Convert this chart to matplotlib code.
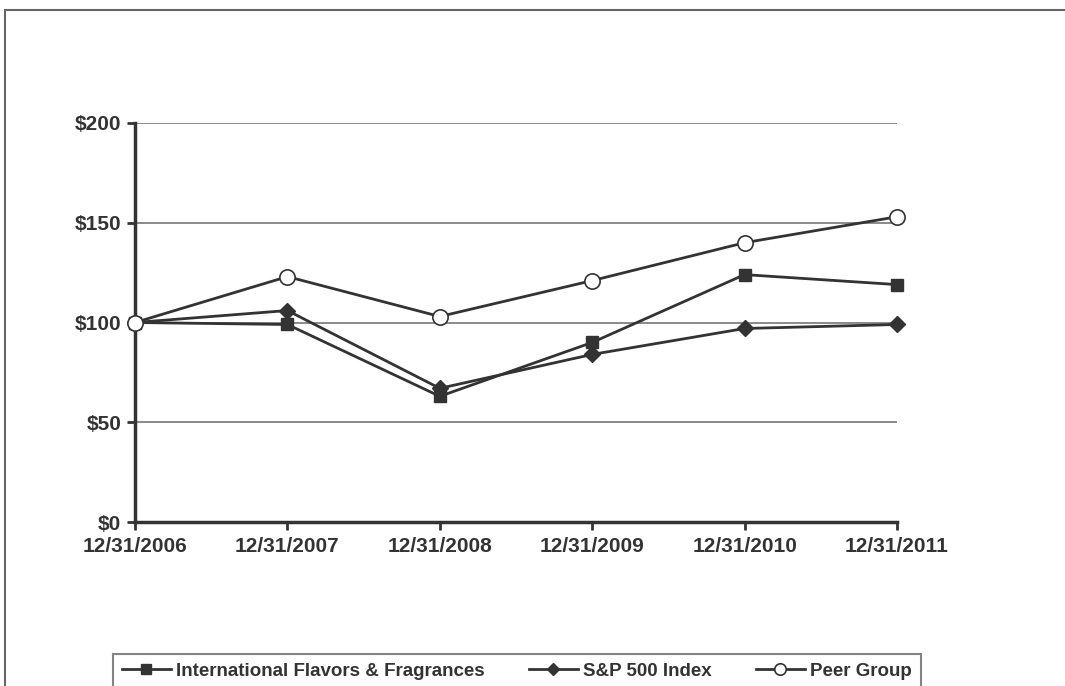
import matplotlib
matplotlib.use("Agg")
import matplotlib.pyplot as plt
from matplotlib.patches import Rectangle

plt.rcParams['font.family'] = ['Liberation Sans', 'DejaVu Sans']

years = ["12/31/2006", "12/31/2007", "12/31/2008", "12/31/2009", "12/31/2010", "12/31/2011"]
iff = [100, 99, 63, 90, 124, 119]
sp500 = [100, 106, 67, 84, 97, 99]
peer = [100, 123, 103, 121, 140, 153]
yticks = [0, 50, 100, 150, 200]

fig = plt.figure(figsize=(10.65, 6.86), dpi=100)
ax = fig.add_axes([135 / 1065, 1 - 522 / 686, (897 - 135) / 1065, (522 - 123) / 686])

x = list(range(len(years)))
line_col = "#333333"
ax.plot(x, iff, color=line_col, lw=2, marker="s", ms=9, mfc="#333333", mec="#333333",
        label="International Flavors & Fragrances", zorder=3, clip_on=False)
ax.plot(x, sp500, color=line_col, lw=2, marker="D", ms=8, mfc="#333333", mec="#333333",
        label="S&P 500 Index", zorder=3, clip_on=False)
ax.plot(x, peer, color=line_col, lw=2, marker="o", ms=11, mfc="white", mec="#333333",
        mew=1.2, label="Peer Group", zorder=4, clip_on=False)

ax.set_xlim(0, len(years) - 1)
ax.set_ylim(0, 200)
ax.set_yticks(yticks)
ax.set_yticklabels([f"${v}" for v in yticks])
ax.set_xticks(x)
ax.set_xticklabels(years)
for v in yticks[1:]:
    ax.axhline(v, color="#777777", lw=1.2, zorder=1)

for s in ["top", "right"]:
    ax.spines[s].set_visible(False)
for s in ["left", "bottom"]:
    ax.spines[s].set_color("#333333")
    ax.spines[s].set_linewidth(2.5)
ax.tick_params(axis="both", length=6, width=2, color="#333333", direction="out")
ax.tick_params(axis="y", labelsize=15, pad=4)
ax.tick_params(axis="x", labelsize=15, pad=5)
for lab in ax.get_xticklabels() + ax.get_yticklabels():
    lab.set_fontweight("bold")
    lab.set_color("#333333")

leg = fig.legend(loc="lower center", bbox_to_anchor=(517 / 1065, -0.02), ncol=3,
                 frameon=True, fancybox=False, edgecolor="#666666", fontsize=13.5,
                 handlelength=2.6, handletextpad=0.3, columnspacing=2.35,
                 borderpad=0.45, borderaxespad=0.6, markerscale=0.75)
leg.get_frame().set_linewidth(1.5)
for t in leg.get_texts():
    t.set_fontweight("bold")
    t.set_color("#333333")

fig.patches.append(Rectangle((5 / 1065, -0.1), 1.2, 1 - 10 / 686 + 0.1,
                             transform=fig.transFigure, fill=False,
                             edgecolor="#666666", lw=1.5))

fig.savefig("out.png", dpi=100)
